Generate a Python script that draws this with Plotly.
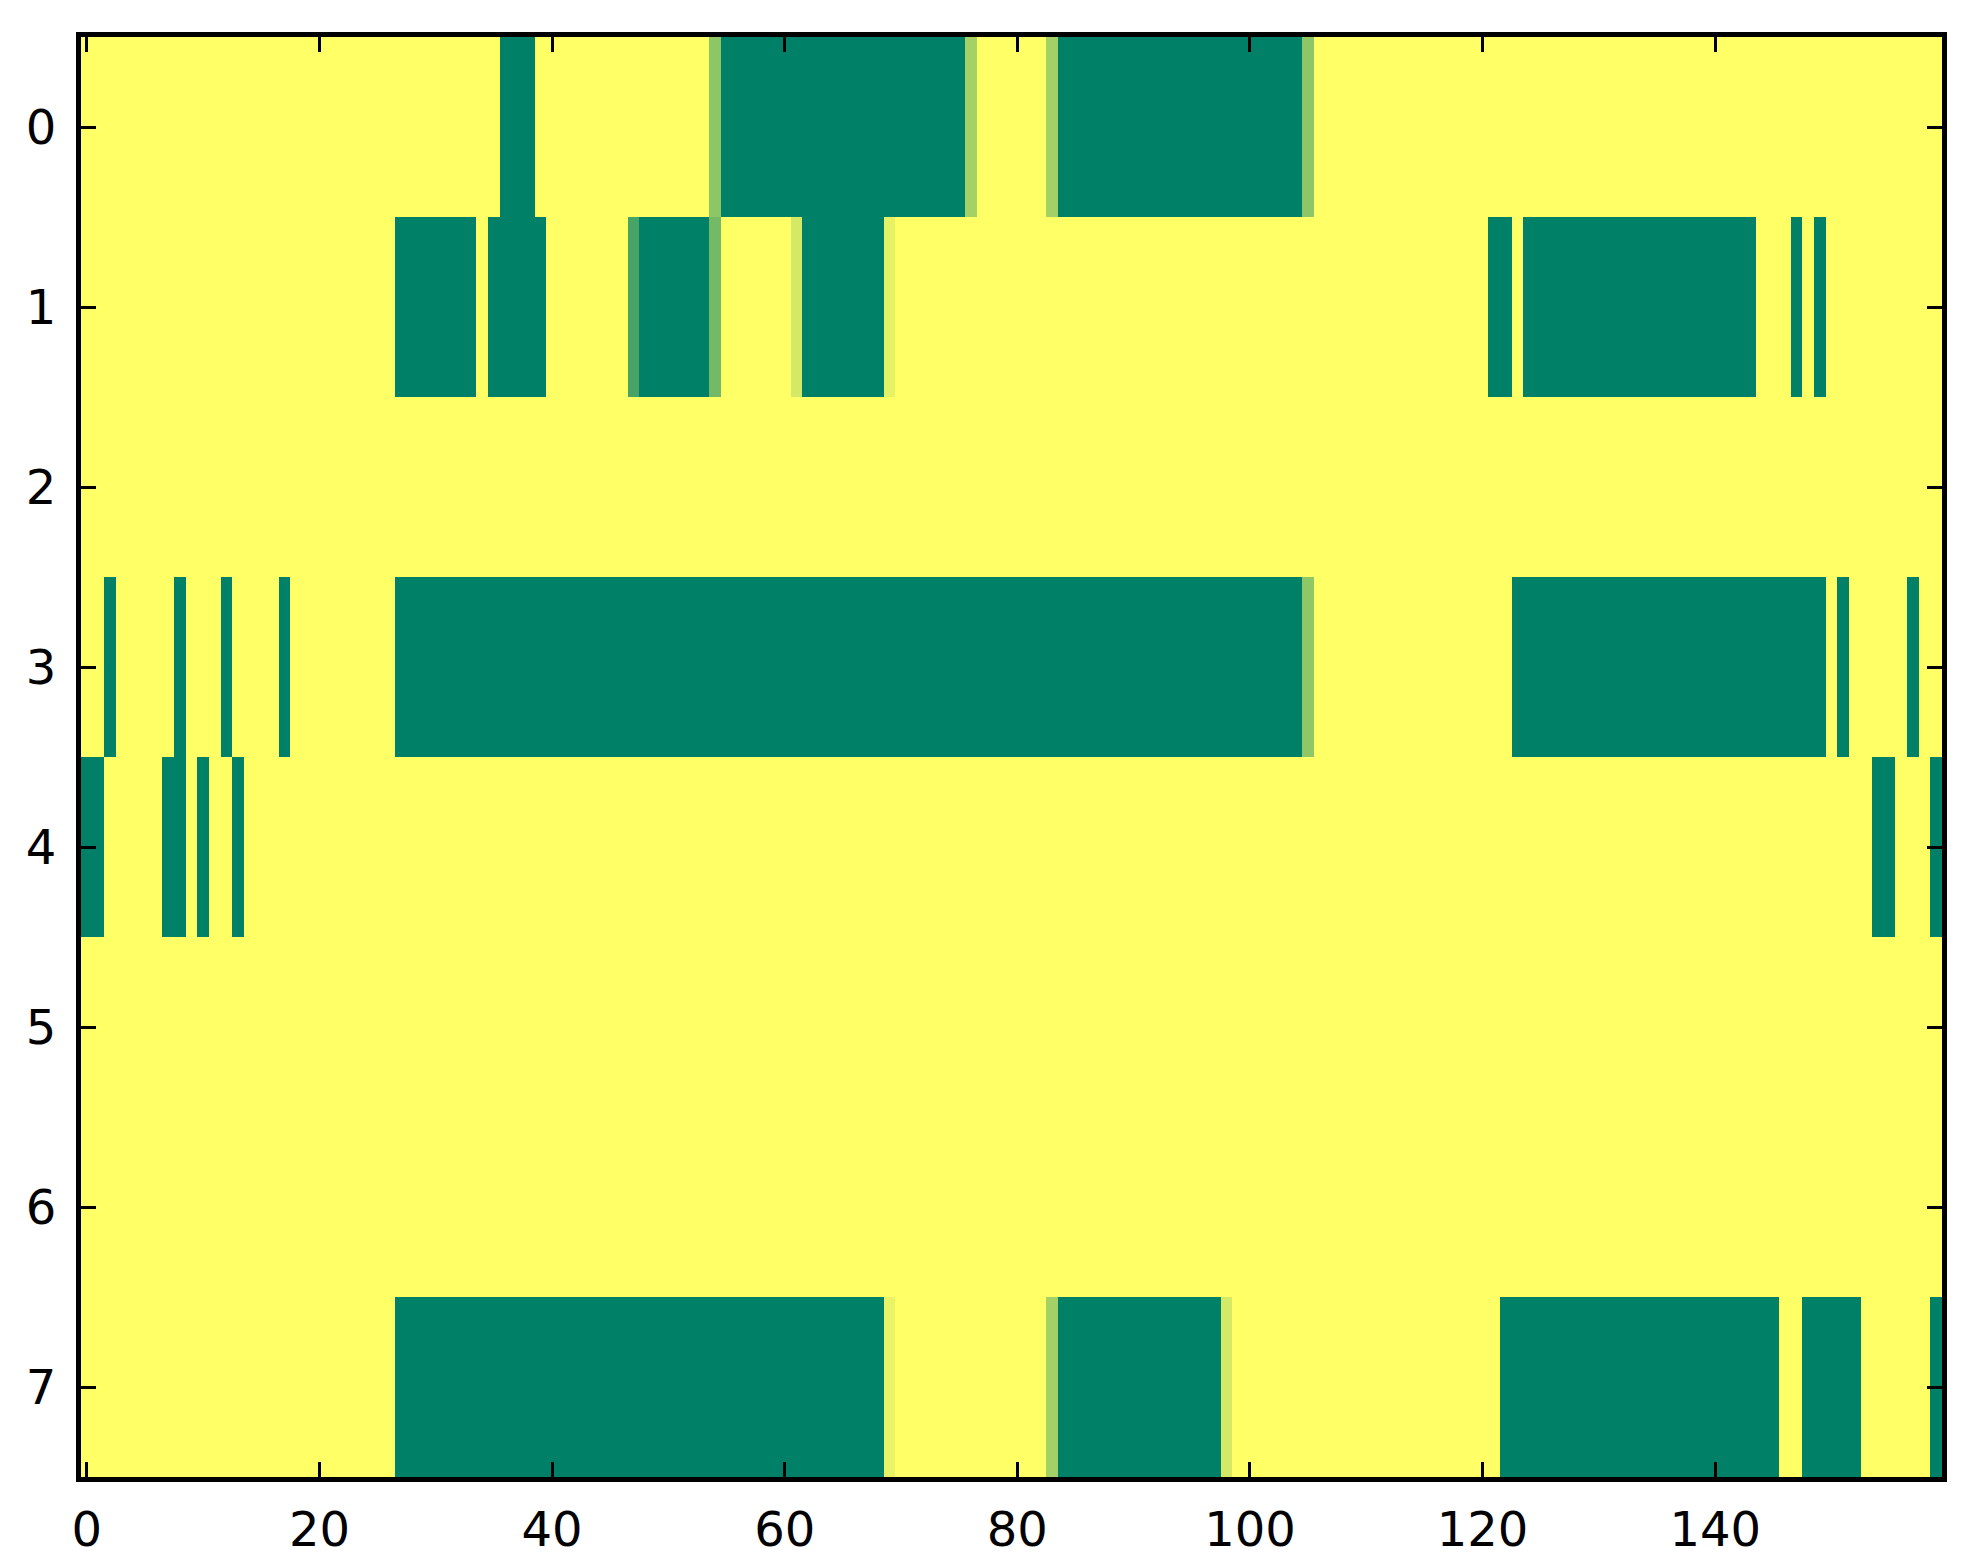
import numpy as np
import plotly.graph_objects as go

# grid size (rows x columns)
n_rows = 8
n_cols = 160

# every cell is 1.0 unless listed below as (first_col, last_col, value)
row0_runs = [(36, 38, 0.0), (54, 54, 0.55), (55, 75, 0.0), (76, 76, 0.64),
             (83, 83, 0.64), (84, 104, 0.0), (105, 105, 0.55)]
row1_runs = [(27, 33, 0.0), (35, 39, 0.0), (47, 47, 0.28), (48, 53, 0.0),
             (54, 54, 0.45), (61, 61, 0.83), (62, 68, 0.0), (69, 69, 0.9),
             (121, 122, 0.0), (124, 143, 0.0), (147, 147, 0.0), (149, 149, 0.0)]
row2_runs = []
row3_runs = [(2, 2, 0.0), (8, 8, 0.0), (12, 12, 0.0), (17, 17, 0.0),
             (27, 104, 0.0), (105, 105, 0.56), (123, 149, 0.0),
             (151, 151, 0.0), (157, 157, 0.0)]
row4_runs = [(0, 1, 0.0), (7, 8, 0.0), (10, 10, 0.0), (13, 13, 0.0),
             (154, 155, 0.0), (159, 159, 0.0)]
row5_runs = []
row6_runs = []
row7_runs = [(27, 68, 0.0), (69, 69, 0.91), (83, 83, 0.64), (84, 97, 0.0),
             (98, 98, 0.83), (122, 145, 0.0), (148, 152, 0.0), (159, 159, 0.0)]

x_ticks = [0, 20, 40, 60, 80, 100, 120, 140]
y_ticks = [0, 1, 2, 3, 4, 5, 6, 7]

all_runs = [row0_runs, row1_runs, row2_runs, row3_runs,
            row4_runs, row5_runs, row6_runs, row7_runs]

z = np.ones((n_rows, n_cols))
for r, runs in enumerate(all_runs):
    for first, last, val in runs:
        z[r, first:last + 1] = val

# matplotlib "summer" colormap is linear between these two ends
summer = [[0.0, '#008066'], [1.0, '#ffff66']]

fig = go.Figure()
fig.add_trace(go.Heatmap(
    z=z,
    x=list(range(n_cols)),
    y=list(range(n_rows)),
    colorscale=summer,
    zmin=0, zmax=1,
    showscale=False,
    hoverinfo='skip'
))

axis_style = dict(
    showgrid=False,
    zeroline=False,
    showline=True,
    linecolor='black',
    linewidth=5,
    mirror='allticks',
    ticks='inside',
    ticklen=15,
    tickwidth=3,
    tickcolor='black',
    automargin=False,
    tickfont=dict(family='DejaVu Sans', size=48, color='black'),
)

fig.update_xaxes(range=[-0.5, n_cols - 0.5], tickvals=x_ticks,
                 ticklabelstandoff=6, **axis_style)
fig.update_yaxes(range=[n_rows - 0.5, -0.5], tickvals=y_ticks,
                 ticklabelstandoff=10, **axis_style)

fig.update_layout(
    width=1963,
    height=1564,
    margin=dict(l=73, r=29, t=29, b=95, autoexpand=False),
    paper_bgcolor='white',
    plot_bgcolor='white',
)

fig.write_html("out.html")
